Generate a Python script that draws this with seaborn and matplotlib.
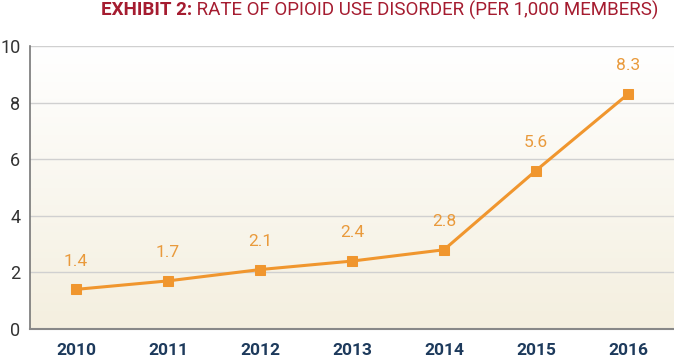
import matplotlib
matplotlib.use("Agg")
import matplotlib.pyplot as plt
import seaborn as sns
import numpy as np
import pandas as pd
from matplotlib.colors import LinearSegmentedColormap

years = ["2010", "2011", "2012", "2013", "2014", "2015", "2016"]
rates = [1.4, 1.7, 2.1, 2.4, 2.8, 5.6, 8.3]
yticks = [0, 2, 4, 6, 8, 10]
title_bold = "EXHIBIT 2:"
title_rest = " RATE OF OPIOID USE DISORDER (PER 1,000 MEMBERS)"

sns.set_theme(style="white")
plt.rcParams['font.family'] = ['Liberation Sans Narrow', 'Roboto', 'DejaVu Sans']

df = pd.DataFrame({"pos": np.arange(len(years)), "rate": rates})

fig = plt.figure(figsize=(6.74, 3.61), dpi=100)
ax = fig.add_axes([30/674, 32/361, 644/674, 283/361])

orange = "#f0962e"
sns.lineplot(data=df, x="pos", y="rate", ax=ax, color=orange, lw=2.2,
             marker="s", markersize=7, markeredgecolor=orange, zorder=5)

for x, v in zip(df["pos"], df["rate"]):
    ax.text(x, v + 1.0, f"{v}", ha="center", va="center", color="#e99a3c",
            fontsize=12.5, zorder=6)

# gradient background: cream at bottom, white at top
cmap = LinearSegmentedColormap.from_list("bg", ["#f4efdf", "#ffffff"])
grad = np.linspace(0, 1, 256).reshape(-1, 1)
ax.imshow(grad, extent=[-0.5, len(years) - 0.5, 0, 10], aspect="auto",
          cmap=cmap, zorder=0, origin="lower")
ax.set_ylim(0, 10)
ax.set_xlim(-0.5, len(years) - 0.5)

ax.set_yticks(yticks)
ax.set_yticklabels([str(t) for t in yticks], fontsize=13, color="#333333")
ax.set_xticks(df["pos"])
ax.set_xticklabels(years, fontsize=12.5, fontweight="bold", color="#1d3a5c")
ax.tick_params(axis="x", length=0, pad=10)
ax.tick_params(axis="y", length=0, pad=7)
ax.set_xticks(np.arange(len(years) - 1) + 0.5, minor=True)
ax.tick_params(axis="x", which="minor", direction="in", length=5, width=0.8,
               color="#999999")
for y in yticks[1:]:
    ax.axhline(y, color="#d0d0d0", lw=1, zorder=1)

for s in ["top", "right"]:
    ax.spines[s].set_visible(False)
ax.spines["left"].set_color("#777777")
ax.spines["left"].set_linewidth(1.2)
ax.spines["bottom"].set_color("#888888")
ax.spines["bottom"].set_linewidth(1.5)
ax.set_xlabel("")
ax.set_ylabel("")

red = "#a51c30"
t2 = fig.text(658/674, 1 - 10/361, title_rest, ha="right", va="center",
              fontsize=13.5, color=red)
fig.canvas.draw()
bb = t2.get_window_extent()
fig.text(bb.x0 / fig.bbox.width, 1 - 10/361, title_bold, ha="right", va="center",
         fontsize=13.5, color=red, fontweight="bold")

fig.savefig("out.png", dpi=100)
